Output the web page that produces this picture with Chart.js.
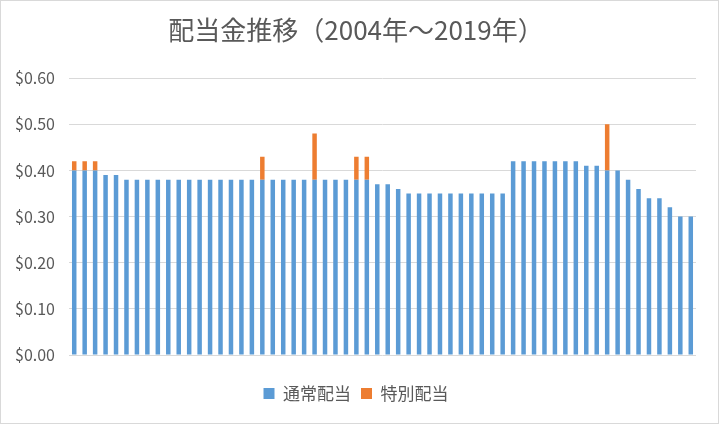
<!DOCTYPE html>
<html>
<head>
<meta charset="utf-8">
<script src="https://cdn.jsdelivr.net/npm/chart.js@4"></script>
<style>
html,body{margin:0;padding:0;background:#fff;}
#wrap{position:absolute;left:0;top:0;width:717px;height:422px;border:1px solid #d9d9d9;}
canvas{display:block;}
</style>
</head>
<body>
<div id="wrap"><canvas id="c" width="717" height="422"></canvas></div>
<script>
const titleText = '配当金推移（2004年～2019年）';
const seriesNames = ['通常配当', '特別配当'];
const categories = [
 'Q1','Q2','Q3','Q4','Q5','Q6','Q7','Q8','Q9','Q10',
 'Q11','Q12','Q13','Q14','Q15','Q16','Q17','Q18','Q19','Q20',
 'Q21','Q22','Q23','Q24','Q25','Q26','Q27','Q28','Q29','Q30',
 'Q31','Q32','Q33','Q34','Q35','Q36','Q37','Q38','Q39','Q40',
 'Q41','Q42','Q43','Q44','Q45','Q46','Q47','Q48','Q49','Q50',
 'Q51','Q52','Q53','Q54','Q55','Q56','Q57','Q58','Q59','Q60'
];
const regular = [
 0.40,0.40,0.40,0.39,0.39,0.38,0.38,0.38,0.38,0.38,
 0.38,0.38,0.38,0.38,0.38,0.38,0.38,0.38,0.38,0.38,
 0.38,0.38,0.38,0.38,0.38,0.38,0.38,0.38,0.38,0.37,
 0.37,0.36,0.35,0.35,0.35,0.35,0.35,0.35,0.35,0.35,
 0.35,0.35,0.42,0.42,0.42,0.42,0.42,0.42,0.42,0.41,
 0.41,0.40,0.40,0.38,0.36,0.34,0.34,0.32,0.30,0.30
];
const special = [
 0.02,0.02,0.02,0,0,0,0,0,0,0,
 0,0,0,0,0,0,0,0,0.05,0,
 0,0,0,0.10,0,0,0,0.05,0.05,0,
 0,0,0,0,0,0,0,0,0,0,
 0,0,0,0,0,0,0,0,0,0,
 0,0.10,0,0,0,0,0,0,0,0
];
const yTicks = [0, 0.1, 0.2, 0.3, 0.4, 0.5, 0.6];

const fontFam = '"Noto Sans CJK JP", "Noto Sans", sans-serif';
const gray = '#595959';

new Chart(document.getElementById('c'), {
  type: 'bar',
  data: {
    labels: categories,
    datasets: [
      {label: seriesNames[0], data: regular, backgroundColor: '#5B9BD5', barPercentage: 0.43, categoryPercentage: 1},
      {label: seriesNames[1], data: special, backgroundColor: '#ED7D31', barPercentage: 0.43, categoryPercentage: 1}
    ]
  },
  options: {
    responsive: false,
    animation: false,
    layout: {padding: {left: 15, right: 22, top: 0, bottom: 11}},
    plugins: {
      title: {display: true, text: titleText, color: gray,
        font: {family: fontFam, size: 26, weight: 'normal'},
        padding: {top: 14, bottom: 32}},
      legend: {position: 'bottom',
        labels: {color: gray, font: {family: fontFam, size: 17}, boxWidth: 11, boxHeight: 11, padding: 10}},
      tooltip: {enabled: false}
    },
    scales: {
      x: {stacked: true, grid: {display: false}, border: {display: false},
          ticks: {display: false},
          afterFit: s => { s.height = 20; }},
      y: {stacked: true, min: 0, max: 0.6,
          afterBuildTicks: s => { s.ticks = yTicks.map(v => ({value: v})); },
          afterFit: s => { s.width = 53; },
          grid: {color: '#d9d9d9', lineWidth: 1, drawTicks: false},
          border: {display: false},
          ticks: {color: gray, font: {family: fontFam, size: 16}, padding: 14,
                  callback: v => '$' + Number(v).toFixed(2)}}
    }
  }
});
</script>
</body>
</html>
